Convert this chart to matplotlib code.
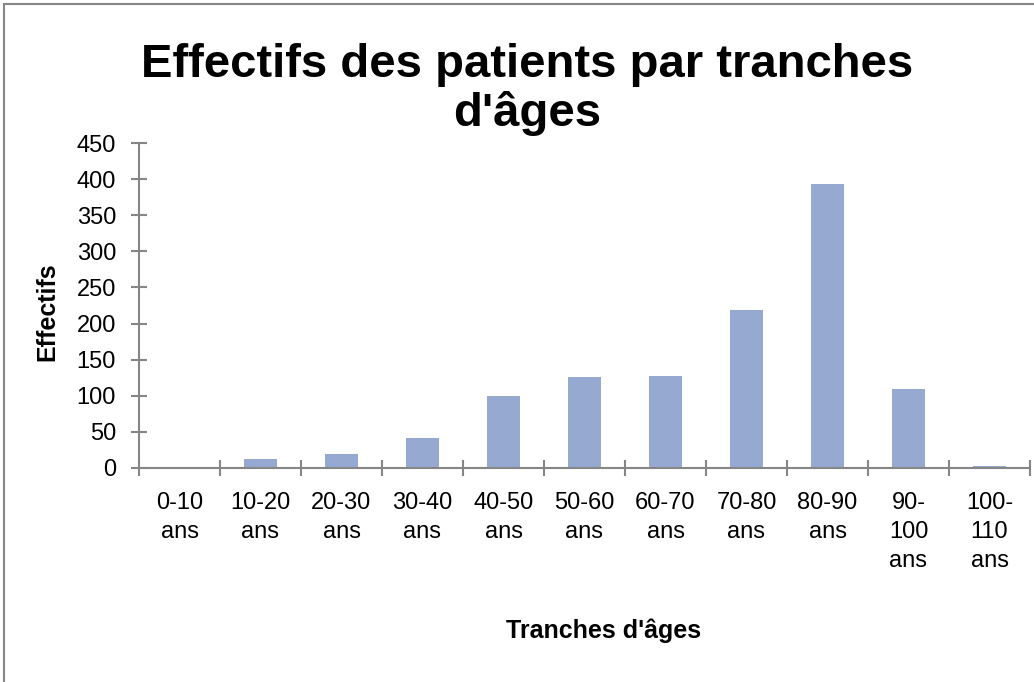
import matplotlib
matplotlib.use("Agg")
import matplotlib.pyplot as plt
from matplotlib.patches import Rectangle

# tranches d'âges et effectifs
categories = ["0-10\nans", "10-20\nans", "20-30\nans", "30-40\nans", "40-50\nans",
              "50-60\nans", "60-70\nans", "70-80\nans", "80-90\nans",
              "90-\n100\nans", "100-\n110\nans"]
effectifs = [0, 12, 20, 41, 100, 126, 127, 219, 393, 110, 3]
yticks = list(range(0, 451, 50))

plt.rcParams['font.family'] = ['Liberation Sans', 'DejaVu Sans']

fig = plt.figure(figsize=(10.34, 6.82), dpi=100)
ax = fig.add_axes([139/1034, 1 - 468/682, 891/1034, 325/682])

x = list(range(len(categories)))
ax.bar(x, effectifs, width=0.4, color='#95A9D1', edgecolor='none', zorder=2)

ax.set_xlim(-0.5, len(categories) - 0.5)
ax.set_ylim(0, 450)
ax.set_yticks(yticks)
ax.set_yticklabels([str(v) for v in yticks], fontsize=17)
ax.set_xticks([i + 0.5 for i in range(-1, len(categories))])
ax.set_xticklabels([])
ax.set_xticks(x, minor=True)
ax.set_xticklabels(categories, minor=True, fontsize=17, va='top',
                   ha='center', linespacing=1.42)
ax.tick_params(axis='x', which='minor', length=0, pad=17)
ax.tick_params(axis='x', which='major', direction='inout', length=11,
               color='#868686', width=1.5)
ax.tick_params(axis='y', direction='inout', length=11, color='#868686',
               width=1.5, pad=11)

for s in ['top', 'right']:
    ax.spines[s].set_visible(False)
for s in ['left', 'bottom']:
    ax.spines[s].set_color('#868686')
    ax.spines[s].set_linewidth(1.5)

fig.text(527/1034, 1 - 77/682, "Effectifs des patients par tranches",
         ha='center', va='baseline', fontsize=34, fontweight='bold')
fig.text(527/1034, 1 - 126/682, "d'âges",
         ha='center', va='baseline', fontsize=34, fontweight='bold')
fig.text(47/1034, 1 - 312/682, "Effectifs", rotation=90, ha='center',
         va='center', fontsize=18, fontweight='bold')
fig.text(604/1034, 1 - 638/682, "Tranches d'âges", ha='center',
         va='baseline', fontsize=18, fontweight='bold')

# cadre du graphique
fig.patches.append(Rectangle((4/1034, -0.1), 1.2, 1 - 4/682 + 0.1,
                             transform=fig.transFigure, fill=False,
                             edgecolor='#868686', linewidth=1.5))

fig.savefig("out.png", dpi=100)
